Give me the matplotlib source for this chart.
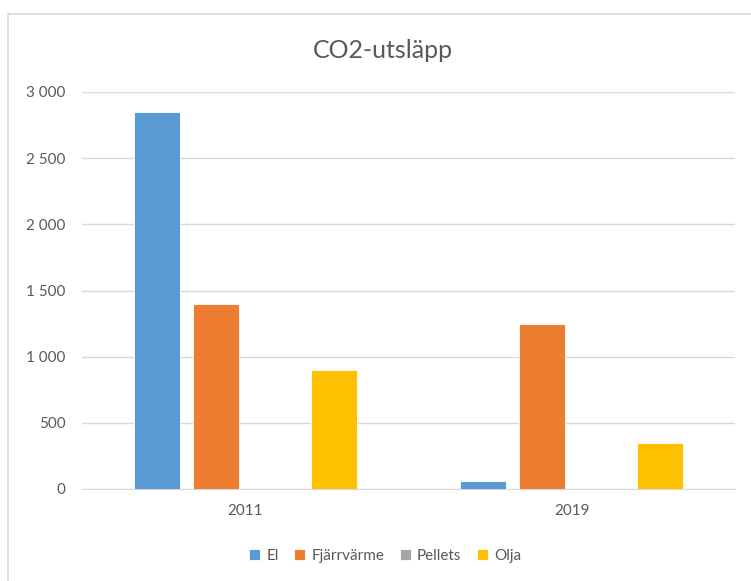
import numpy as np
import matplotlib.pyplot as plt
from matplotlib.lines import Line2D

# data
years = ["2011", "2019"]
serier = ["El", "Fjärrvärme", "Pellets", "Olja"]
el = [2850, 62]
fjarrvarme = [1400, 1247]
pellets = [0, 0]
olja = [900, 350]
yticks = [0, 500, 1000, 1500, 2000, 2500, 3000]

farger = ["#5B9BD5", "#ED7D31", "#A5A5A5", "#FFC000"]
textfarg = "#595959"

plt.rcParams['font.family'] = ['Lato', 'DejaVu Sans']

fig = plt.figure(figsize=(7.51, 5.81), dpi=100)
ax = fig.add_axes([82 / 751, 1 - 489 / 581, 653 / 751, 397 / 581])

x = np.arange(len(years))
bredd = 0.141
steg = 0.181
for i, (namn, varden) in enumerate(zip(serier, [el, fjarrvarme, pellets, olja])):
    pos = x + (i - 1.5) * steg
    ax.bar(pos, varden, width=bredd, color=farger[i], label=namn,
           edgecolor="white", linewidth=0.6, zorder=3)

ax.set_xlim(-0.5, 1.5)
ax.set_ylim(0, 3000)
ax.set_yticks(yticks)
ax.set_yticklabels([f"{v:,}".replace(",", " ") for v in yticks])
ax.set_xticks(x)
ax.set_xticklabels(years)
ax.grid(axis="y", color="#D9D9D9", linewidth=1, zorder=0)
for s in ["top", "right", "left"]:
    ax.spines[s].set_visible(False)
ax.spines["bottom"].set_color("#D9D9D9")
ax.tick_params(axis="both", length=0, colors=textfarg, labelsize=11)
ax.tick_params(axis="y", pad=12)
ax.tick_params(axis="x", pad=11)

fig.text(383 / 751, 1 - 50 / 581, "CO2-utsläpp", ha="center", va="center",
         fontsize=18, color=textfarg)

ax.legend(loc="center", bbox_to_anchor=(385 / 751, 1 - 556 / 581),
          bbox_transform=fig.transFigure, ncol=4, frameon=False,
          fontsize=11, labelcolor=textfarg, handlelength=0.75, handleheight=0.75,
          handletextpad=0.4, columnspacing=1.0)

# ram runt diagrammet
fig.add_artist(Line2D([8 / 751, 1], [1 - 14 / 581, 1 - 14 / 581],
                      transform=fig.transFigure, color="#D9D9D9", linewidth=1.2))
fig.add_artist(Line2D([8 / 751, 8 / 751], [0, 1 - 14 / 581],
                      transform=fig.transFigure, color="#D9D9D9", linewidth=1.2))

fig.savefig("out.png", dpi=100)
